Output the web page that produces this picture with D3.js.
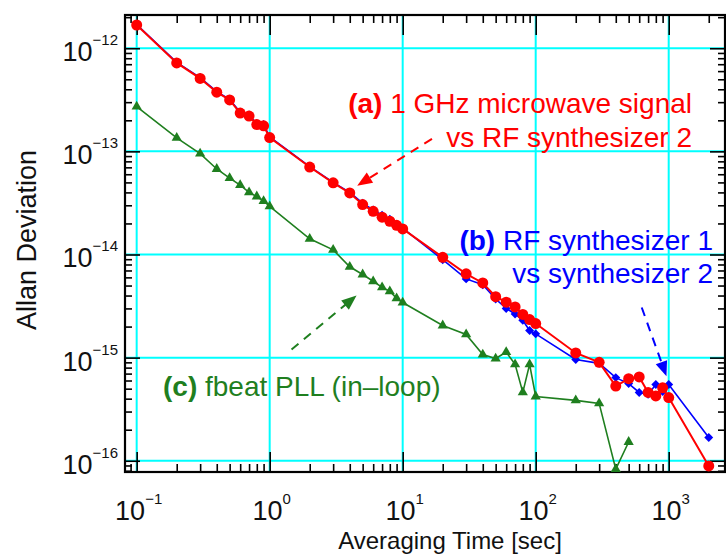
<!DOCTYPE html>
<html>
<head>
<meta charset="utf-8">
<script src="https://cdn.jsdelivr.net/npm/d3@7"></script>
<style>
  body { margin: 0; background: #fff; }
  text { font-family: "Liberation Sans", Arial, sans-serif; }
</style>
</head>
<body>
<div id="chart"></div>
<script>
// averaging times (sec)
var tau = [0.1, 0.2, 0.3, 0.4, 0.5, 0.6, 0.7, 0.8, 0.9, 1,
           2, 3, 4, 5, 6, 7, 8, 9, 10,
           20, 30, 40, 50, 60, 70, 80, 90, 100,
           200, 300, 400, 500, 600, 700, 800, 900, 1000, 2000];

// (a) 1 GHz microwave signal vs RF synthesizer 2
var adevA = [1.68e-12, 7.2e-13, 5.1e-13, 3.75e-13, 3.15e-13, 2.35e-13, 2.2e-13, 1.82e-13, 1.77e-13, 1.36e-13,
             7.05e-14, 4.95e-14, 3.95e-14, 3.05e-14, 2.62e-14, 2.3e-14, 2.1e-14, 1.92e-14, 1.77e-14,
             9.4e-15, 6.5e-15, 5.3e-15, 3.9e-15, 3.45e-15, 3.1e-15, 2.62e-15, 2.34e-15, 2.14e-15,
             1.11e-15, 9.0e-16, 5.3e-16, 6.25e-16, 6.5e-16, 4.6e-16, 4.25e-16, 5.1e-16, 4.1e-16, 8.9e-17];

// (b) RF synthesizer 1 vs synthesizer 2
var adevB = [1.7e-12, 7.3e-13, 5.2e-13, 3.8e-13, 3.2e-13, 2.4e-13, 2.25e-13, 1.85e-13, 1.82e-13, 1.38e-13,
             7.1e-14, 5.0e-14, 4.0e-14, 3.15e-14, 2.7e-14, 2.4e-14, 2.2e-14, 1.95e-14, 1.8e-14,
             8.9e-15, 5.8e-15, 5.1e-15, 3.7e-15, 3.0e-15, 2.65e-15, 2.3e-15, 1.83e-15, 1.7e-15,
             9.6e-16, 8.8e-16, 6.4e-16, 5.6e-16, 4.6e-16, 4.4e-16, 5.5e-16, 4.7e-16, 5.5e-16, 1.68e-16];

// (c) fbeat PLL (in-loop)
var tauC = [0.1, 0.2, 0.3, 0.4, 0.5, 0.6, 0.7, 0.8, 0.9, 1,
            2, 3, 4, 5, 6, 7, 8, 9, 10,
            20, 30, 40, 50, 60, 70, 80, 90, 100,
            200, 300, 400, 500];
var adevC = [2.72e-13, 1.35e-13, 9.5e-14, 6.75e-14, 5.5e-14, 4.7e-14, 4.0e-14, 3.65e-14, 3.3e-14, 2.93e-14,
             1.42e-14, 1.11e-14, 7.6e-15, 6.4e-15, 5.5e-15, 4.8e-15, 4.4e-15, 3.75e-15, 3.42e-15,
             2.05e-15, 1.68e-15, 1.07e-15, 9.8e-16, 1.13e-15, 8.6e-16, 4.6e-16, 8.6e-16, 4.2e-16,
             3.85e-16, 3.6e-16, 8.3e-17, 1.52e-16];

var xDecades = [-1, 0, 1, 2, 3];
var yDecades = [-16, -15, -14, -13, -12];

var W = 726, H = 554;
var pLeft = 125, pRight = 725, pTop = 15, pBottom = 472;

var svg = d3.select("#chart").append("svg")
    .attr("width", W).attr("height", H);

var x = d3.scaleLog().domain([0.0817, 2650]).range([pLeft, pRight]);
var y = d3.scaleLog().domain([7.78e-17, 2.1e-12]).range([pBottom, pTop]);

// minor tick values
function minors(scale) {
    var d = scale.domain(), out = [];
    for (var e = -18; e <= 4; e++) {
        for (var k = 2; k <= 9; k++) {
            var v = k * Math.pow(10, e);
            if (v >= d[0] && v <= d[1]) out.push(v);
        }
    }
    return out;
}
var xMajor = xDecades.map(function (e) { return Math.pow(10, e); });
var yMajor = yDecades.map(function (e) { return Math.pow(10, e); });

// grid
svg.append("g").selectAll("line").data(xMajor).enter().append("line")
    .attr("x1", function (d) { return x(d); }).attr("x2", function (d) { return x(d); })
    .attr("y1", pTop).attr("y2", pBottom)
    .attr("stroke", "#00ffff").attr("stroke-width", 2);
svg.append("g").selectAll("line").data(yMajor).enter().append("line")
    .attr("y1", function (d) { return y(d); }).attr("y2", function (d) { return y(d); })
    .attr("x1", pLeft).attr("x2", pRight)
    .attr("stroke", "#00ffff").attr("stroke-width", 2);

// inward ticks on all four sides
function ticks(axis, tr) {
    var g = svg.append("g").attr("transform", tr).call(axis);
    g.select(".domain").remove();
    g.selectAll("line").attr("stroke", "#000").attr("stroke-width", 1.6);
    g.selectAll("text").remove();
}
ticks(d3.axisBottom(x).tickValues(minors(x)).tickSize(-8).tickFormat(""), "translate(0," + pBottom + ")");
ticks(d3.axisBottom(x).tickValues(xMajor).tickSize(-20).tickFormat(""), "translate(0," + pBottom + ")");
ticks(d3.axisTop(x).tickValues(minors(x)).tickSize(-8).tickFormat(""), "translate(0," + pTop + ")");
ticks(d3.axisTop(x).tickValues(xMajor).tickSize(-20).tickFormat(""), "translate(0," + pTop + ")");
ticks(d3.axisLeft(y).tickValues(minors(y)).tickSize(-7).tickFormat(""), "translate(" + pLeft + ",0)");
ticks(d3.axisLeft(y).tickValues(yMajor).tickSize(-15).tickFormat(""), "translate(" + pLeft + ",0)");
ticks(d3.axisRight(y).tickValues(minors(y)).tickSize(-7).tickFormat(""), "translate(" + pRight + ",0)");
ticks(d3.axisRight(y).tickValues(yMajor).tickSize(-15).tickFormat(""), "translate(" + pRight + ",0)");

// frame
svg.append("rect")
    .attr("x", pLeft).attr("y", pTop)
    .attr("width", pRight - pLeft).attr("height", pBottom - pTop)
    .attr("fill", "none").attr("stroke", "#000").attr("stroke-width", 2.2);

// tick labels
var yl = svg.append("g").selectAll("text").data(yDecades).enter().append("text")
    .attr("x", 118).attr("y", function (d) { return y(Math.pow(10, d)) + 13; })
    .attr("text-anchor", "end").attr("fill", "#111");
yl.append("tspan").attr("font-size", 27).text("10");
yl.append("tspan").attr("font-size", 15).attr("dy", -16)
    .text(function (d) { return "\u2212" + Math.abs(d); });

var xl = svg.append("g").selectAll("text").data(xDecades).enter().append("text")
    .attr("x", function (d) { return x(Math.pow(10, d)) + 2; }).attr("y", 520)
    .attr("text-anchor", "middle").attr("fill", "#111");
xl.append("tspan").attr("font-size", 27).text("10");
xl.append("tspan").attr("font-size", 15).attr("dy", -16)
    .text(function (d) { return d < 0 ? "\u2212" + Math.abs(d) : d; });

// axis titles
svg.append("text").attr("x", 450).attr("y", 549).attr("text-anchor", "middle")
    .attr("font-size", 24).attr("fill", "#111").text("Averaging Time [sec]");
svg.append("text").attr("transform", "translate(36,240) rotate(-90)").attr("text-anchor", "middle")
    .attr("font-size", 27).attr("fill", "#111").text("Allan Deviation");

// series
var line = d3.line().x(function (d) { return x(d[0]); }).y(function (d) { return y(d[1]); });
var dataA = d3.zip(tau, adevA), dataB = d3.zip(tau, adevB), dataC = d3.zip(tauC, adevC);

var green = "#1f7f1f", red = "#ff0000", blue = "#0000ff";

svg.append("path").datum(dataC).attr("d", line)
    .attr("fill", "none").attr("stroke", green).attr("stroke-width", 1.6);
svg.append("g").selectAll("path").data(dataC).enter().append("path")
    .attr("d", d3.symbol().type(d3.symbolTriangle).size(45))
    .attr("transform", function (d) { return "translate(" + x(d[0]) + "," + y(d[1]) + ")"; })
    .attr("fill", green);

svg.append("path").datum(dataB).attr("d", line)
    .attr("fill", "none").attr("stroke", blue).attr("stroke-width", 1.6);
svg.append("g").selectAll("path").data(dataB).enter().append("path")
    .attr("d", d3.symbol().type(d3.symbolSquare).size(40))
    .attr("transform", function (d) { return "translate(" + x(d[0]) + "," + y(d[1]) + ") rotate(45)"; })
    .attr("fill", blue);

svg.append("path").datum(dataA).attr("d", line)
    .attr("fill", "none").attr("stroke", red).attr("stroke-width", 2);
svg.append("g").selectAll("circle").data(dataA).enter().append("circle")
    .attr("cx", function (d) { return x(d[0]); }).attr("cy", function (d) { return y(d[1]); })
    .attr("r", 5.5).attr("fill", red);

// dashed annotation arrows (in data coordinates)
function arrow(from, to, color) {
    var x1 = x(from[0]), y1 = y(from[1]), x2 = x(to[0]), y2 = y(to[1]);
    var a = Math.atan2(y2 - y1, x2 - x1), L = 15;
    svg.append("line")
        .attr("x1", x1).attr("y1", y1)
        .attr("x2", x2 - L * 0.7 * Math.cos(a)).attr("y2", y2 - L * 0.7 * Math.sin(a))
        .attr("stroke", color).attr("stroke-width", 2).attr("stroke-dasharray", "9,7");
    svg.append("path")
        .attr("d", "M0,0 L" + (-L) + "," + (-6) + " L" + (-L) + ",6 Z")
        .attr("transform", "translate(" + x2 + "," + y2 + ") rotate(" + (a * 180 / Math.PI) + ")")
        .attr("fill", color);
}
arrow([16.6, 1.32e-13], [4.55, 4.65e-14], red);
arrow([627, 3.06e-15], [962, 6.58e-16], blue);
arrow([1.46, 1.2e-15], [4.5, 4.0e-15], green);

// annotation labels
function label(xp, yp, anchor, color, bold, rest) {
    var t = svg.append("text").attr("x", xp).attr("y", yp)
        .attr("text-anchor", anchor).attr("font-size", 28).attr("fill", color);
    if (bold) t.append("tspan").attr("font-weight", "bold").text(bold + " ");
    t.append("tspan").text(rest);
}
label(692, 113, "end", red, "(a)", "1 GHz microwave signal");
label(692, 147, "end", red, null, "vs RF synthesizer 2");
label(713, 250, "end", blue, "(b)", "RF synthesizer 1");
label(713, 283, "end", blue, null, "vs synthesizer 2");
label(163, 396, "start", green, "(c)", "fbeat PLL (in\u2013loop)");
</script>
</body>
</html>
